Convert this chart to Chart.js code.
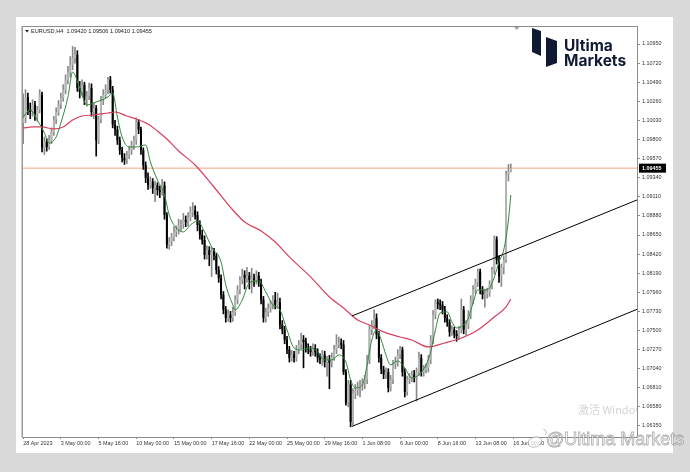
<!DOCTYPE html>
<html><head><meta charset="utf-8">
<script src="https://cdn.jsdelivr.net/npm/chart.js@4.4.1/dist/chart.umd.min.js"></script>
<style>html,body{margin:0;padding:0;background:#d9d9d9;overflow:hidden}canvas{display:block}</style>
</head><body>
<canvas id="c" width="690" height="472"></canvas>
<script>
const symbolTitle = 'EURUSD,H4';
const headerOHLC = [1.09420, 1.09506, 1.09410, 1.09455];
const bidPrice = 1.09455;

const opens = [
1.1000,1.1006,1.1031,1.1016,1.1013,1.1022,1.1010,1.1016,1.1034,1.0970,
1.0977,1.0971,1.0979,1.0989,1.1004,1.1013,1.1022,1.1030,1.1040,1.1052,
1.1061,1.1070,1.1078,1.1082,1.1042,1.1037,1.1046,1.1028,1.1032,1.1042,
1.1013,1.1018,1.0979,1.1004,1.1028,1.1034,1.1040,1.1052,1.1040,1.0998,
1.0992,1.0979,1.0967,1.0958,1.0955,1.0961,1.0967,1.0973,1.0979,1.1001,
1.0992,1.0967,1.0949,1.0934,1.0925,1.0929,1.0922,1.0925,1.0919,1.0917,
1.0925,1.0889,1.0853,1.0857,1.0862,1.0869,1.0871,1.0877,1.0878,1.0883,
1.0881,1.0886,1.0893,1.0895,1.0889,1.0877,1.0865,1.0859,1.0841,1.0847,
1.0841,1.0845,1.0840,1.0823,1.0813,1.0793,1.0775,1.0765,1.0769,1.0765,
1.0772,1.0787,1.0799,1.0811,1.0817,1.0813,1.0816,1.0811,1.0813,1.0811,
1.0816,1.0808,1.0787,1.0765,1.0772,1.0777,1.0781,1.0787,1.0781,1.0784,
1.0757,1.0751,1.0739,1.0727,1.0717,1.0721,1.0717,1.0727,1.0733,1.0739,
1.0736,1.0729,1.0727,1.0724,1.0729,1.0724,1.0717,1.0715,1.0721,1.0712,
1.0715,1.0711,1.0718,1.0727,1.0733,1.0735,1.0733,1.0700,1.0663,1.0685,
1.0640,1.0675,1.0678,1.0681,1.0684,1.0687,1.0691,1.0715,1.0751,1.0757,
1.0765,1.0745,1.0717,1.0703,1.0697,1.0700,1.0681,1.0691,1.0709,1.0712,
1.0721,1.0727,1.0700,1.0676,1.0691,1.0693,1.0697,1.0693,1.0700,1.0717,
1.0700,1.0703,1.0705,1.0715,1.0739,1.0769,1.0784,1.0782,1.0781,1.0775,
1.0765,1.0760,1.0748,1.0751,1.0746,1.0743,1.0751,1.0775,1.0751,1.0757,
1.0769,1.0787,1.0799,1.0808,1.0821,1.0799,1.0793,1.0794,1.0796,1.0805,
1.0823,1.0860,1.0835,1.0815,1.0826,1.0835,1.0938,1.09420];

const highs = [
1.1035,1.1040,1.1036,1.1024,1.1028,1.1026,1.1020,1.1040,1.1037,1.0983,
1.0981,1.0985,1.0994,1.1008,1.1018,1.1027,1.1036,1.1046,1.1058,1.1068,
1.1080,1.1092,1.1091,1.1087,1.1050,1.1052,1.1049,1.1038,1.1048,1.1047,
1.1024,1.1021,1.1008,1.1032,1.1040,1.1046,1.1055,1.1056,1.1044,1.1003,
1.0996,1.0983,1.0971,1.0963,1.0966,1.0972,1.0978,1.0984,1.1006,1.1004,
1.0995,1.0970,1.0953,1.0940,1.0935,1.0933,1.0930,1.0928,1.0924,1.0932,
1.0929,1.0892,1.0862,1.0867,1.0875,1.0876,1.0884,1.0883,1.0891,1.0888,
1.0892,1.0899,1.0904,1.0900,1.0893,1.0882,1.0871,1.0864,1.0852,1.0851,
1.0850,1.0849,1.0843,1.0827,1.0817,1.0797,1.0779,1.0775,1.0773,1.0778,
1.0792,1.0804,1.0815,1.0824,1.0822,1.0826,1.0820,1.0825,1.0818,1.0822,
1.0820,1.0812,1.0791,1.0777,1.0782,1.0786,1.0792,1.0796,1.0795,1.0789,
1.0762,1.0755,1.0743,1.0731,1.0726,1.0725,1.0732,1.0738,1.0747,1.0744,
1.0741,1.0734,1.0731,1.0734,1.0733,1.0728,1.0722,1.0726,1.0725,1.0719,
1.0720,1.0723,1.0732,1.0745,1.0742,1.0740,1.0738,1.0703,1.0690,1.0690,
1.0680,1.0685,1.0688,1.0690,1.0692,1.0696,1.0720,1.0756,1.0762,1.0775,
1.0770,1.0749,1.0721,1.0707,1.0705,1.0704,1.0696,1.0714,1.0718,1.0727,
1.0731,1.0730,1.0704,1.0695,1.0698,1.0701,1.0702,1.0705,1.0724,1.0721,
1.0708,1.0710,1.0720,1.0744,1.0774,1.0787,1.0788,1.0787,1.0785,1.0779,
1.0769,1.0763,1.0756,1.0754,1.0750,1.0755,1.0788,1.0779,1.0762,1.0774,
1.0792,1.0804,1.0812,1.0824,1.0824,1.0803,1.0800,1.0801,1.0810,1.0826,
1.0864,1.0863,1.0840,1.0830,1.0840,1.0942,1.0950,1.09506];

const lows = [
1.0975,1.1000,1.1010,1.1005,1.1008,1.1003,1.1002,1.1012,1.0965,1.0962,
1.0966,1.0968,1.0975,1.0985,1.0999,1.1009,1.1017,1.1026,1.1035,1.1047,
1.1055,1.1064,1.1072,1.1038,1.1030,1.1033,1.1022,1.1020,1.1028,1.1008,
1.1005,1.0960,1.0975,1.1000,1.1022,1.1030,1.1035,1.1036,1.0994,1.0985,
1.0974,1.0962,1.0953,1.0950,1.0951,1.0957,1.0962,1.0968,1.0974,1.0987,
1.0962,1.0944,1.0928,1.0920,1.0921,1.0915,1.0905,1.0913,1.0910,1.0913,
1.0884,1.0849,1.0848,1.0852,1.0858,1.0863,1.0866,1.0870,1.0873,1.0875,
1.0876,1.0882,1.0887,1.0884,1.0870,1.0860,1.0854,1.0836,1.0836,1.0828,
1.0815,1.0835,1.0818,1.0808,1.0788,1.0770,1.0760,1.0761,1.0760,1.0761,
1.0768,1.0782,1.0794,1.0806,1.0800,1.0808,1.0800,1.0795,1.0803,1.0806,
1.0803,1.0782,1.0760,1.0760,1.0767,1.0772,1.0776,1.0776,1.0777,1.0752,
1.0746,1.0734,1.0722,1.0712,1.0713,1.0712,1.0713,1.0722,1.0728,1.0705,
1.0724,1.0722,1.0719,1.0720,1.0719,1.0712,1.0710,1.0708,1.0706,1.0695,
1.0680,1.0706,1.0714,1.0722,1.0729,1.0728,1.0697,1.0660,1.0658,1.0634,
1.0636,1.0668,1.0672,1.0670,1.0678,1.0680,1.0686,1.0710,1.0745,1.0752,
1.0740,1.0712,1.0698,1.0692,1.0692,1.0676,1.0677,1.0686,1.0704,1.0707,
1.0716,1.0695,1.0670,1.0672,1.0686,1.0688,1.0688,1.0665,1.0696,1.0695,
1.0695,1.0699,1.0700,1.0710,1.0734,1.0764,1.0776,1.0775,1.0770,1.0760,
1.0755,1.0743,1.0744,1.0741,1.0737,1.0739,1.0747,1.0746,1.0744,1.0752,
1.0764,1.0782,1.0794,1.0803,1.0794,1.0788,1.0778,1.0789,1.0791,1.0800,
1.0818,1.0830,1.0808,1.0803,1.0818,1.0832,1.0930,1.09410];

const closes = [
1.1006,1.1031,1.1016,1.1013,1.1022,1.1010,1.1016,1.1034,1.0970,1.0977,
1.0971,1.0979,1.0989,1.1004,1.1013,1.1022,1.1030,1.1040,1.1052,1.1061,
1.1070,1.1078,1.1082,1.1042,1.1037,1.1046,1.1028,1.1032,1.1042,1.1013,
1.1018,1.0979,1.1004,1.1028,1.1034,1.1040,1.1052,1.1040,1.0998,1.0992,
1.0979,1.0967,1.0958,1.0955,1.0961,1.0967,1.0973,1.0979,1.1001,1.0992,
1.0967,1.0949,1.0934,1.0925,1.0929,1.0922,1.0925,1.0919,1.0917,1.0925,
1.0889,1.0853,1.0857,1.0862,1.0869,1.0871,1.0877,1.0878,1.0883,1.0881,
1.0886,1.0893,1.0895,1.0889,1.0877,1.0865,1.0859,1.0841,1.0847,1.0841,
1.0845,1.0840,1.0823,1.0813,1.0793,1.0775,1.0765,1.0769,1.0765,1.0772,
1.0787,1.0799,1.0811,1.0817,1.0813,1.0816,1.0811,1.0813,1.0811,1.0816,
1.0808,1.0787,1.0765,1.0772,1.0777,1.0781,1.0787,1.0781,1.0784,1.0757,
1.0751,1.0739,1.0727,1.0717,1.0721,1.0717,1.0727,1.0733,1.0739,1.0736,
1.0729,1.0727,1.0724,1.0729,1.0724,1.0717,1.0715,1.0721,1.0712,1.0715,
1.0711,1.0718,1.0727,1.0733,1.0735,1.0733,1.0700,1.0663,1.0685,1.0640,
1.0675,1.0678,1.0681,1.0684,1.0687,1.0691,1.0715,1.0751,1.0757,1.0765,
1.0745,1.0717,1.0703,1.0697,1.0700,1.0681,1.0691,1.0709,1.0712,1.0721,
1.0727,1.0700,1.0676,1.0691,1.0693,1.0697,1.0693,1.0700,1.0717,1.0700,
1.0703,1.0705,1.0715,1.0739,1.0769,1.0784,1.0782,1.0781,1.0775,1.0765,
1.0760,1.0748,1.0751,1.0746,1.0743,1.0751,1.0775,1.0751,1.0757,1.0769,
1.0787,1.0799,1.0808,1.0821,1.0799,1.0793,1.0794,1.0796,1.0805,1.0823,
1.0860,1.0835,1.0815,1.0826,1.0835,1.0938,1.0942,1.09455];

// fast moving average (green), read at sample bars
const fastIdx = [0,3,6,9,11,14,16,19,21,24,27,31,36,38,40,42,45,48,52,54,57,60,62,65,68,71,74,77,80,84,86,89,90,93,96,100,103,106,109,112,115,118,122,125,128,131,134,137,139,141,144,146,148,150,152,154,156,159,162,165,168,171,173,175,177,180,182,184,187,189,191,193,196,198,201,202,204,206,207];
const fastVal = [1.10071,1.10156,1.10035,1.09879,1.09758,1.09831,1.09999,1.10312,1.10613,1.10420,1.10216,1.10252,1.10312,1.10360,1.10071,1.09831,1.09710,1.09710,1.09734,1.09530,1.09313,1.09132,1.08891,1.08735,1.08687,1.08771,1.08819,1.08687,1.08506,1.08326,1.08049,1.07808,1.07748,1.07868,1.08073,1.08097,1.07964,1.07808,1.07748,1.07507,1.07290,1.07266,1.07290,1.07242,1.07146,1.07146,1.07206,1.07122,1.06905,1.06809,1.06845,1.07085,1.07386,1.07507,1.07386,1.07206,1.07085,1.07134,1.07049,1.06929,1.06965,1.07085,1.07242,1.07507,1.07712,1.07724,1.07603,1.07531,1.07567,1.07651,1.07832,1.07988,1.07988,1.08013,1.08229,1.08326,1.08470,1.08830,1.09132];

// slow moving average (red), read at sample bars
const slowIdx = [0,4,8,13,17,21,25,30,36,39,44,48,53,57,61,66,73,81,89,94,101,107,113,122,130,136,142,147,153,160,165,172,179,186,193,200,205,207];
const slowVal = [1.09939,1.09951,1.09951,1.09927,1.09951,1.10035,1.10083,1.10095,1.10119,1.10131,1.10083,1.10047,1.09987,1.09903,1.09806,1.09662,1.09493,1.09228,1.08951,1.08807,1.08699,1.08566,1.08386,1.08145,1.07904,1.07771,1.07627,1.07567,1.07483,1.07422,1.07386,1.07302,1.07350,1.07410,1.07507,1.07663,1.07784,1.07880];

// ascending channel trend lines
const channelIdx = [139.6, 261];
const channelUpper = [1.07675, 1.09077];
const channelLower = [1.06345, 1.07760];

const xTickIdx = [0,16,32,48,64,80,96,112,128,144,160,176,192,208];
const xTickLabels = ['28 Apr 2023','3 May 00:00','5 May 16:00','10 May 00:00','15 May 00:00','17 May 16:00','22 May 00:00','25 May 00:00','29 May 16:00','1 Jun 08:00','6 Jun 00:00','8 Jun 16:00','13 Jun 08:00','16 Jun 00:00'];
const yTicks = [1.06350,1.06580,1.06810,1.07040,1.07270,1.07500,1.07730,1.07960,1.08190,1.08420,1.08650,1.08880,1.09110,1.09340,1.09570,1.09800,1.10030,1.10260,1.10490,1.10720,1.10950];

const X_MIN = -0.5, X_MAX = 261, Y_MIN = 1.062175, Y_MAX = 1.111668;

const isBull = i => closes[i] >= opens[i];
const wickData = closes.map((c, i) => ({x: i, y: [lows[i], highs[i]]}));
const bodyData = closes.map((c, i) => ({x: i, y: [opens[i], closes[i]]}));
const toXY = (xs, ys) => xs.map((x, i) => ({x: x, y: ys[i]}));

const AX_FONT = {family: 'Liberation Sans', size: 5.4};

const decor = {
  id: 'decor',
  beforeDraw(chart) {
    const c = chart.ctx;
    c.save();
    c.fillStyle = '#d9d9d9'; c.fillRect(0, 0, 690, 472);
    c.fillStyle = '#ffffff'; c.fillRect(16, 17, 657, 436);
    c.restore();
  },
  afterDraw(chart) {
    const c = chart.ctx, a = chart.chartArea, ys = chart.scales.y, xs = chart.scales.x;
    c.save();
    // frame
    c.strokeStyle = '#8c8c8c'; c.lineWidth = 1;
    c.strokeRect(a.left + 0.5, a.top + 0.5, a.right - a.left - 1, a.bottom - a.top);
    c.fillStyle = '#9a9a9a'; c.fillRect(a.left - 0.5, a.top, 1.5, a.bottom - a.top);
    // header
    c.fillStyle = '#222';
    c.beginPath(); c.moveTo(a.left + 3, a.top + 4); c.lineTo(a.left + 7, a.top + 4); c.lineTo(a.left + 5, a.top + 6.5); c.closePath(); c.fill();
    c.font = '5.6px "Liberation Sans"'; c.textBaseline = 'middle'; c.textAlign = 'left';
    c.fillText(symbolTitle + '  ' + headerOHLC.map(v => v.toFixed(5)).join(' '), a.left + 9, a.top + 5);
    // chart shift marker
    const sx = xs.getPixelForValue(209.5);
    c.fillStyle = '#a0a0a0';
    c.beginPath(); c.moveTo(sx - 2.5, a.top + 1); c.lineTo(sx + 2.5, a.top + 1); c.lineTo(sx, a.top + 4); c.closePath(); c.fill();
    // bid label box
    const py = ys.getPixelForValue(bidPrice);
    c.fillStyle = '#000'; c.fillRect(a.right + 1, py - 4.5, 27, 9);
    c.fillStyle = '#fff'; c.font = 'bold 5.4px "Liberation Sans"';
    c.fillText(bidPrice.toFixed(5), a.right + 4, py + 0.3);
    // logo
    c.fillStyle = '#101a33';
    c.beginPath(); c.moveTo(532, 28); c.lineTo(541, 31); c.lineTo(541, 56); c.lineTo(532, 52); c.closePath(); c.fill();
    c.beginPath(); c.moveTo(546, 37); c.lineTo(557, 41); c.lineTo(557, 63); c.lineTo(546, 67); c.closePath(); c.fill();
    c.font = '700 15.5px Inter'; c.textBaseline = 'alphabetic';
    c.fillText('Ultima', 564, 51);
    c.fillText('Markets', 564, 66);
    // windows watermark clipped to plot area
    c.save();
    c.beginPath(); c.rect(a.left, a.top, a.right - a.left, a.bottom - a.top); c.clip();
    c.fillStyle = 'rgba(160,160,160,0.45)'; c.font = '11px "Noto Sans CJK SC"'; c.textBaseline = 'middle';
    c.fillText('激活 Windows', 578, 410);
    c.restore();
    // weibo watermark
    c.lineWidth = 0.8;
    c.strokeStyle = 'rgba(120,120,120,0.6)';
    c.fillStyle = 'rgba(255,255,255,0.7)';
    c.beginPath(); c.ellipse(535, 442, 7, 5, -0.3, 0, Math.PI * 2); c.fill(); c.stroke();
    c.beginPath(); c.arc(542, 433, 4, -1.2, 0.6); c.stroke();
    c.font = '18px "Liberation Sans"'; c.textBaseline = 'middle';
    c.fillText('@Ultima Markets', 546, 440);
    c.strokeText('@Ultima Markets', 546, 440);
    c.restore();
  }
};

new Chart(document.getElementById('c'), {
  type: 'bar',
  data: {
    datasets: [
      {type: 'line', label: 'bid', data: toXY([X_MIN, X_MAX], [bidPrice, bidPrice]), borderColor: '#f3a47e', borderWidth: 1, pointRadius: 0, order: 10},
      {label: 'wick', data: wickData, grouped: false, barPercentage: 1, categoryPercentage: 1, maxBarThickness: 1,
        backgroundColor: ctx => isBull(ctx.dataIndex) ? '#8a8a8a' : '#000000', order: 6},
      {label: 'body', data: bodyData, grouped: false, barPercentage: 1, categoryPercentage: 0.85, minBarLength: 1,
        backgroundColor: ctx => isBull(ctx.dataIndex) ? '#b5b5b5' : '#000000', order: 5},
      {type: 'line', label: 'slow', data: toXY(slowIdx, slowVal), borderColor: '#d8405f', borderWidth: 1.2, pointRadius: 0, cubicInterpolationMode: 'monotone', order: 3},
      {type: 'line', label: 'fast', data: toXY(fastIdx, fastVal), borderColor: '#2f8a3a', borderWidth: 1, pointRadius: 0, cubicInterpolationMode: 'monotone', order: 2},
      {type: 'line', label: 'upper', data: toXY(channelIdx, channelUpper), borderColor: '#000', borderWidth: 1, pointRadius: 0, order: 1},
      {type: 'line', label: 'lower', data: toXY(channelIdx, channelLower), borderColor: '#000', borderWidth: 1, pointRadius: 0, order: 1}
    ]
  },
  options: {
    responsive: false,
    animation: false,
    events: [],
    layout: {padding: {left: 22, top: 26, right: 17, bottom: 21}},
    plugins: {legend: {display: false}, tooltip: {enabled: false}},
    scales: {
      x: {
        type: 'linear', min: X_MIN, max: X_MAX, offset: false,
        grid: {display: true, drawOnChartArea: false, drawTicks: true, tickLength: 2, color: '#8c8c8c', offset: false},
        border: {display: false},
        afterBuildTicks: s => { s.ticks = xTickIdx.map(v => ({value: v})); },
        afterFit: s => { s.height = 14; },
        ticks: {autoSkip: false, maxRotation: 0, minRotation: 0, align: 'start', padding: 1, color: '#333', font: AX_FONT,
          callback: v => xTickLabels[xTickIdx.indexOf(v)]}
      },
      y: {
        type: 'linear', position: 'right', min: Y_MIN, max: Y_MAX,
        grid: {display: true, drawOnChartArea: false, drawTicks: true, tickLength: 2, color: '#8c8c8c'},
        border: {display: false},
        afterBuildTicks: s => { s.ticks = yTicks.map(v => ({value: v})); },
        afterFit: s => { s.width = 35; },
        ticks: {autoSkip: false, padding: 2, color: '#333', font: AX_FONT, callback: v => v.toFixed(5)}
      }
    }
  },
  plugins: [decor]
});
</script>
</body></html>
